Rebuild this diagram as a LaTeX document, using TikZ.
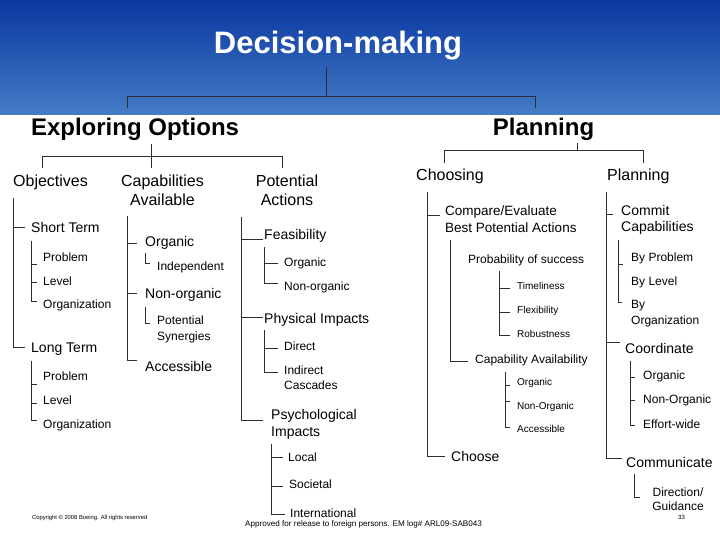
\documentclass[tikz,border=0pt]{standalone}
\usepackage{fontspec}
\setmainfont{Liberation Sans}
\definecolor{bandtop}{RGB}{10,55,160}
\definecolor{bandbot}{RGB}{68,124,198}
\definecolor{linec}{RGB}{45,45,50}
\tikzset{
  lbl/.style={inner sep=0pt, anchor=base west, text=black},
  mlbl/.style={inner sep=0pt, anchor=north west, align=left, text=black},
  fa/.style={font=\fontsize{16}{19}\selectfont},
  fb/.style={font=\fontsize{14}{17}\selectfont},
  fc/.style={font=\fontsize{12}{16}\selectfont},
  fd/.style={font=\fontsize{10}{12}\selectfont},
  conn/.style={draw=linec, line width=1pt}
}
\begin{document}
\begin{tikzpicture}[x=1pt,y=-1pt]
\useasboundingbox (0,0) rectangle (720,540);
\fill[white] (0,0) rectangle (720,540);
\shade[top color=bandtop, bottom color=bandbot] (0,0) rectangle (720,115);

% ---------- top level ----------
\node[inner sep=0pt, anchor=base, text=white, font=\fontsize{31}{36}\selectfont\bfseries] (dm) at (338,54) {Decision-making};
\node[inner sep=0pt, anchor=base, font=\fontsize{24}{28}\selectfont\bfseries] (expl) at (135,136) {Exploring Options};
\node[inner sep=0pt, anchor=base, font=\fontsize{24}{28}\selectfont\bfseries] (plan) at (543.5,136) {Planning};

\coordinate (dmj) at (326,97);
\draw[conn] (326,67) -- (dmj);
\draw[conn] (127,108) -- (127,97) -- (535,97) -- (535,108);

% ---------- second level ----------
\node[lbl,fa] (obj) at (13,186.8) {Objectives};
\node[inner sep=0pt, anchor=north, align=center, fa] (cap) at (162.5,175.2) {Capabilities\\Available};
\node[inner sep=0pt, anchor=north, align=center, fa] (pot) at (287,175.2) {Potential\\Actions};
\node[lbl,fa] (cho) at (416,180.8) {Choosing};
\node[lbl,fa] (pla) at (607,180.8) {Planning};

\draw[conn] (151,144) -- (151,168);
\draw[conn] (42,168) -- (42,157) -- (282,157) -- (282,168);
\draw[conn] (577,143) -- (577,151);
\draw[conn] (444,163) -- (444,151) -- (643,151) -- (643,163);

% ---------- Objectives ----------
\node[lbl,fb] (st) at (31,233) {Short Term};
\node[lbl,fc] (st1) at (43,261.3) {Problem};
\node[lbl,fc] (st2) at (43,285.3) {Level};
\node[lbl,fc] (st3) at (43,308.3) {Organization};
\node[lbl,fb] (lt) at (31,352.5) {Long Term};
\node[lbl,fc] (lt1) at (43,380.8) {Problem};
\node[lbl,fc] (lt2) at (43,404.8) {Level};
\node[lbl,fc] (lt3) at (43,428.3) {Organization};

\draw[conn] (13,198) -- (13,347) -- (25,347);
\draw[conn] (13,228) -- (25,228);
\draw[conn] (31,241) -- (31,301) -- (37,301);
\draw[conn] (31,264) -- (37,264);
\draw[conn] (31,282) -- (37,282);
\draw[conn] (31,361) -- (31,420) -- (37,420);
\draw[conn] (31,384) -- (37,384);
\draw[conn] (31,403) -- (37,403);

% ---------- Capabilities ----------
\node[lbl,fb] (co) at (145,246) {Organic};
\node[lbl,fc] (coi) at (157,270.3) {Independent};
\node[lbl,fb] (cn) at (145,298.5) {Non-organic};
\node[mlbl,fc] (cns) at (157,315.7) {Potential\\Synergies};
\node[lbl,fb] (ca) at (145,371) {Accessible};

\draw[conn] (127,216) -- (127,360) -- (137,360);
\draw[conn] (127,243) -- (137,243);
\draw[conn] (127,293) -- (137,293);
\draw[conn] (145,253) -- (145,263) -- (150,263);
\draw[conn] (145,307) -- (145,323) -- (150,323);

% ---------- Potential Actions ----------
\node[lbl,fb] (fe) at (264,239.5) {Feasibility};
\node[lbl,fc] (fe1) at (284,266.8) {Organic};
\node[lbl,fc] (fe2) at (284,290.3) {Non-organic};
\node[lbl,fb] (ph) at (264,323) {Physical Impacts};
\node[lbl,fc] (ph1) at (284,350.8) {Direct};
\node[mlbl,font=\fontsize{12}{15}\selectfont] (ph2) at (284,365.7) {Indirect\\Cascades};
\node[mlbl,fb] (ps) at (271,409) {Psychological\\Impacts};
\node[lbl,fc] (ps1) at (288,461.3) {Local};
\node[lbl,fc] (ps2) at (289,488.3) {Societal};
\node[lbl,fc] (ps3) at (290,517.5) {International};

\draw[conn] (241,217) -- (241,420) -- (263,420);
\draw[conn] (241,239) -- (263,239);
\draw[conn] (241,317) -- (263,317);
\draw[conn] (264,247) -- (264,283) -- (278,283);
\draw[conn] (264,263) -- (278,263);
\draw[conn] (264,330) -- (264,372) -- (278,372);
\draw[conn] (264,348) -- (278,348);
\draw[conn] (271,444) -- (271,514) -- (285,514);
\draw[conn] (271,457) -- (283,457);
\draw[conn] (271,486) -- (283,486);

% ---------- Choosing ----------
\node[mlbl,font=\fontsize{13.5}{17}\selectfont] (cmp) at (445,205.2) {Compare/Evaluate\\Best Potential Actions};
\node[lbl,fc] (pr) at (468,263.3) {Probability of success};
\node[lbl,fd] (pr1) at (517,289.6) {Timeliness};
\node[lbl,fd] (pr2) at (517,313.3) {Flexibility};
\node[lbl,fd] (pr3) at (517,337.3) {Robustness};
\node[lbl,fc] (cav) at (475,363.3) {Capability Availability};
\node[lbl,fd] (cav1) at (517,385.6) {Organic};
\node[lbl,fd] (cav2) at (517,409.3) {Non-Organic};
\node[lbl,fd] (cav3) at (517,432.6) {Accessible};
\node[lbl,fb] (chs) at (451,461) {Choose};

\draw[conn] (427,192) -- (427,456) -- (445,456);
\draw[conn] (427,216) -- (440,216);
\draw[conn] (450,240) -- (450,361) -- (468,361);
\draw[conn] (499,271) -- (499,335) -- (510,335);
\draw[conn] (499,288) -- (510,288);
\draw[conn] (499,312) -- (510,312);
\draw[conn] (505,372) -- (505,427) -- (510,427);
\draw[conn] (505,385) -- (510,385);
\draw[conn] (505,401) -- (510,401);

% ---------- Planning ----------
\node[mlbl,font=\fontsize{14}{16}\selectfont] (cc) at (621,205) {Commit\\Capabilities};
\node[lbl,fc] (cc1) at (631,261.3) {By Problem};
\node[lbl,fc] (cc2) at (631,285.3) {By Level};
\node[mlbl,fc] (cc3) at (631,299.7) {By\\Organization};
\node[lbl,fb] (crd) at (625,353) {Coordinate};
\node[lbl,fc] (crd1) at (643,379.3) {Organic};
\node[lbl,fc] (crd2) at (643,403.3) {Non-Organic};
\node[lbl,fc] (crd3) at (643,428.3) {Effort-wide};
\node[lbl,fb] (com) at (626,467) {Communicate};
\node[inner sep=0pt, anchor=north, align=center, font=\fontsize{12}{14}\selectfont] (com1) at (678,487.7) {Direction/\\Guidance};

\draw[conn] (606,192) -- (606,458) -- (622,458);
\draw[conn] (606,215) -- (613,215);
\draw[conn] (606,342) -- (620,342);
\draw[conn] (618,240) -- (618,302) -- (622,302);
\draw[conn] (618,264) -- (623,264);
\draw[conn] (630,361) -- (630,425) -- (635,425);
\draw[conn] (630,377) -- (635,377);
\draw[conn] (630,400) -- (635,400);
\draw[conn] (634,474) -- (634,497) -- (640,497);

% ---------- footer ----------
\node[inner sep=0pt, anchor=base west, font=\fontsize{5.8}{7}\selectfont] (copy) at (32,519) {Copyright \textcopyright{} 2008 Boeing. All rights reserved};
\node[inner sep=0pt, anchor=base west, font=\fontsize{8.1}{10}\selectfont] (appr) at (245,526) {Approved for release to foreign persons. EM log\# ARL09-SAB043};
\node[inner sep=0pt, anchor=base west, font=\fontsize{6}{7}\selectfont] (pg) at (678,519) {33};
\end{tikzpicture}
\end{document}
